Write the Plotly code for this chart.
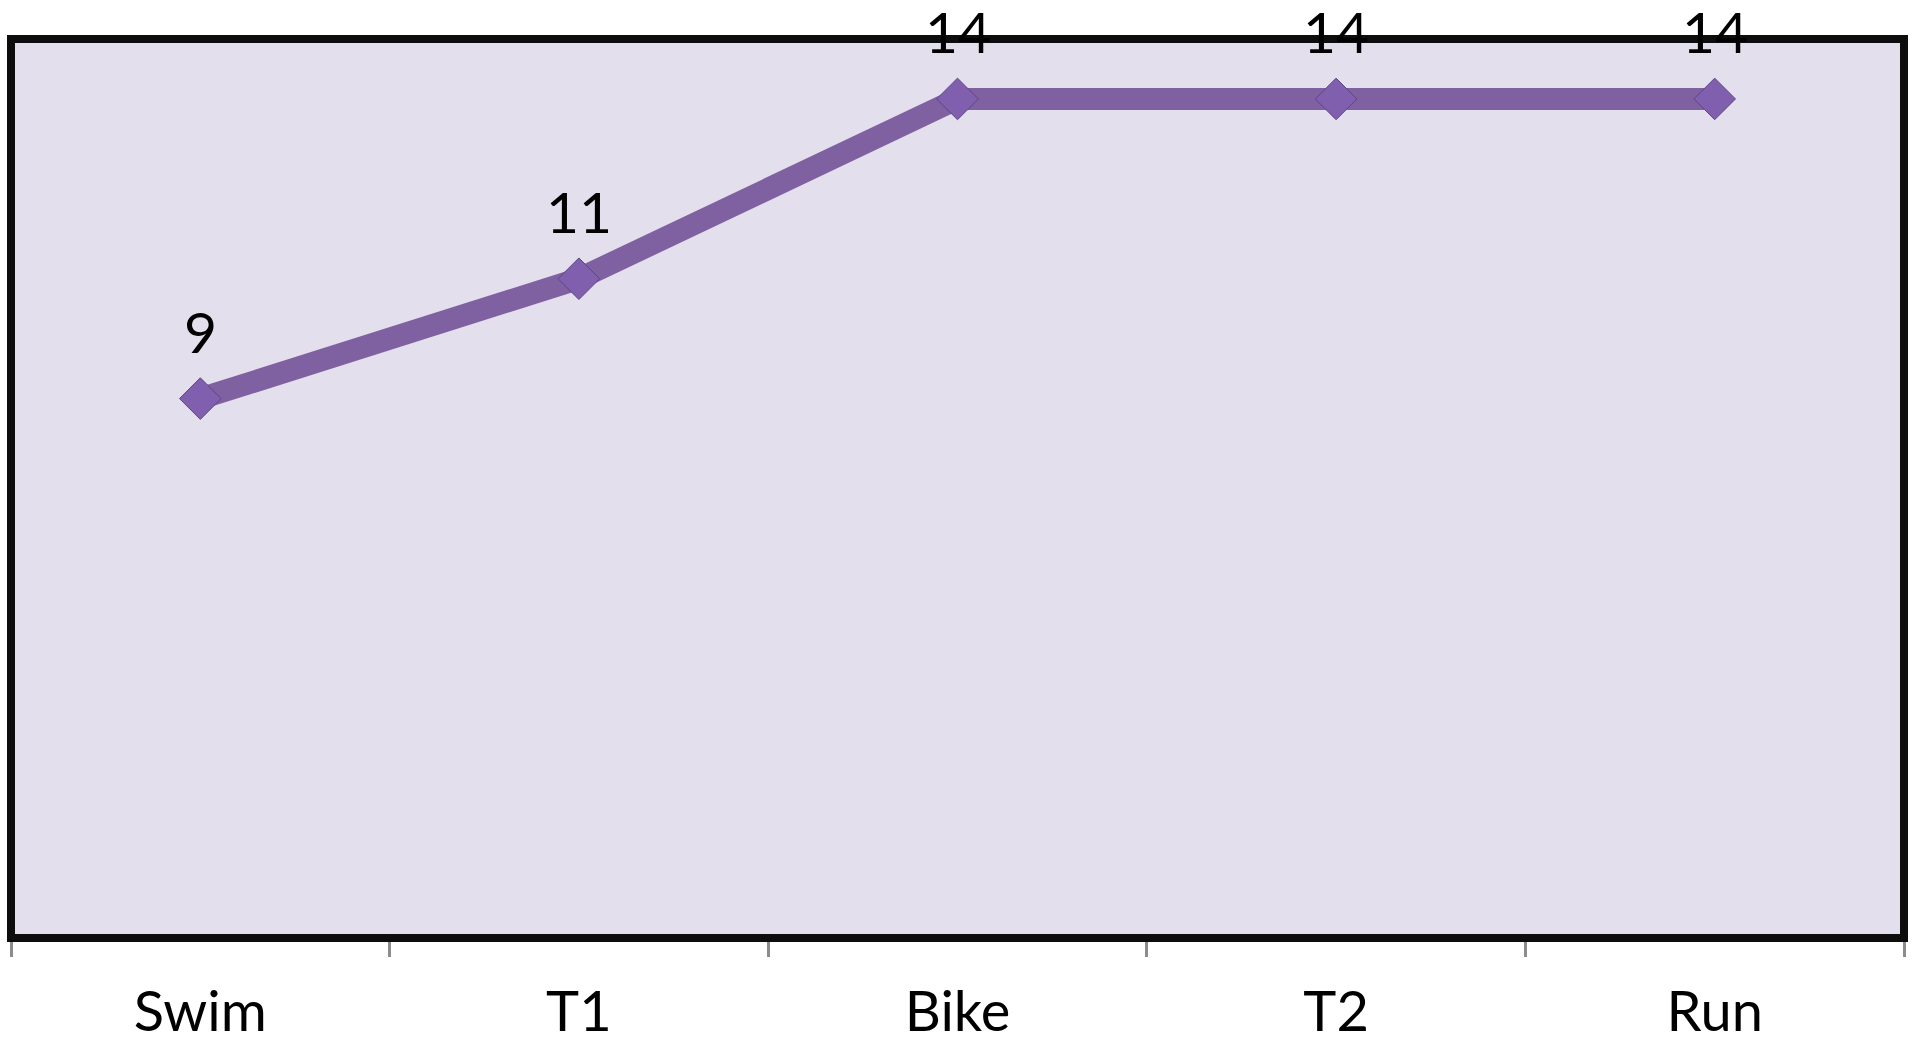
import plotly.graph_objects as go

# Triathlon stages and the value recorded at each
stages = ["Swim", "T1", "Bike", "T2", "Run"]
values = [9, 11, 14, 14, 14]

LINE_COLOR = "#7F60A0"
MARKER_COLOR = "#7F5FAE"
FONT = "Lato, 'Open Sans', sans-serif"

fig = go.Figure()

fig.add_trace(go.Scatter(
    x=stages,
    y=values,
    mode="lines+markers",
    line=dict(color=LINE_COLOR, width=22),
    marker=dict(symbol="diamond", size=32, color=MARKER_COLOR,
                line=dict(color="#5F4587", width=1)),
    hoverinfo="x+y",
    showlegend=False,
    cliponaxis=False,
))

# Value labels above each point
for s, v in zip(stages, values):
    fig.add_annotation(
        x=s, y=v, text=str(v), showarrow=False,
        yshift=68, yanchor="middle", xanchor="center",
        font=dict(family=FONT, size=57, color="#000000"),
    )

# Heavy frame around the plotting area
fig.add_shape(
    type="rect", xref="paper", yref="paper", x0=0, y0=0, x1=1, y1=1,
    line=dict(color="#0D0D0D", width=8), layer="above",
)

fig.update_xaxes(
    type="category",
    range=[-0.5, len(stages) - 0.5],
    tickson="boundaries",
    ticks="outside",
    ticklen=18,
    tickwidth=3,
    tickcolor="#8C8C8C",
    showgrid=False,
    showline=False,
    zeroline=False,
    automargin=False,
    tickfont=dict(family=FONT, size=56, color="#000000"),
    ticklabelstandoff=36,
    fixedrange=True,
)
fig.update_yaxes(
    range=[0, 15],
    visible=False,
    showgrid=False,
    zeroline=False,
    fixedrange=True,
)

fig.update_layout(
    width=1912,
    height=1045,
    margin=dict(l=11, r=8, t=39, b=107, autoexpand=False),
    paper_bgcolor="#FFFFFF",
    plot_bgcolor="#E4DFEC",
    font=dict(family=FONT),
)

fig.write_html("out.html", config={"displayModeBar": False})
